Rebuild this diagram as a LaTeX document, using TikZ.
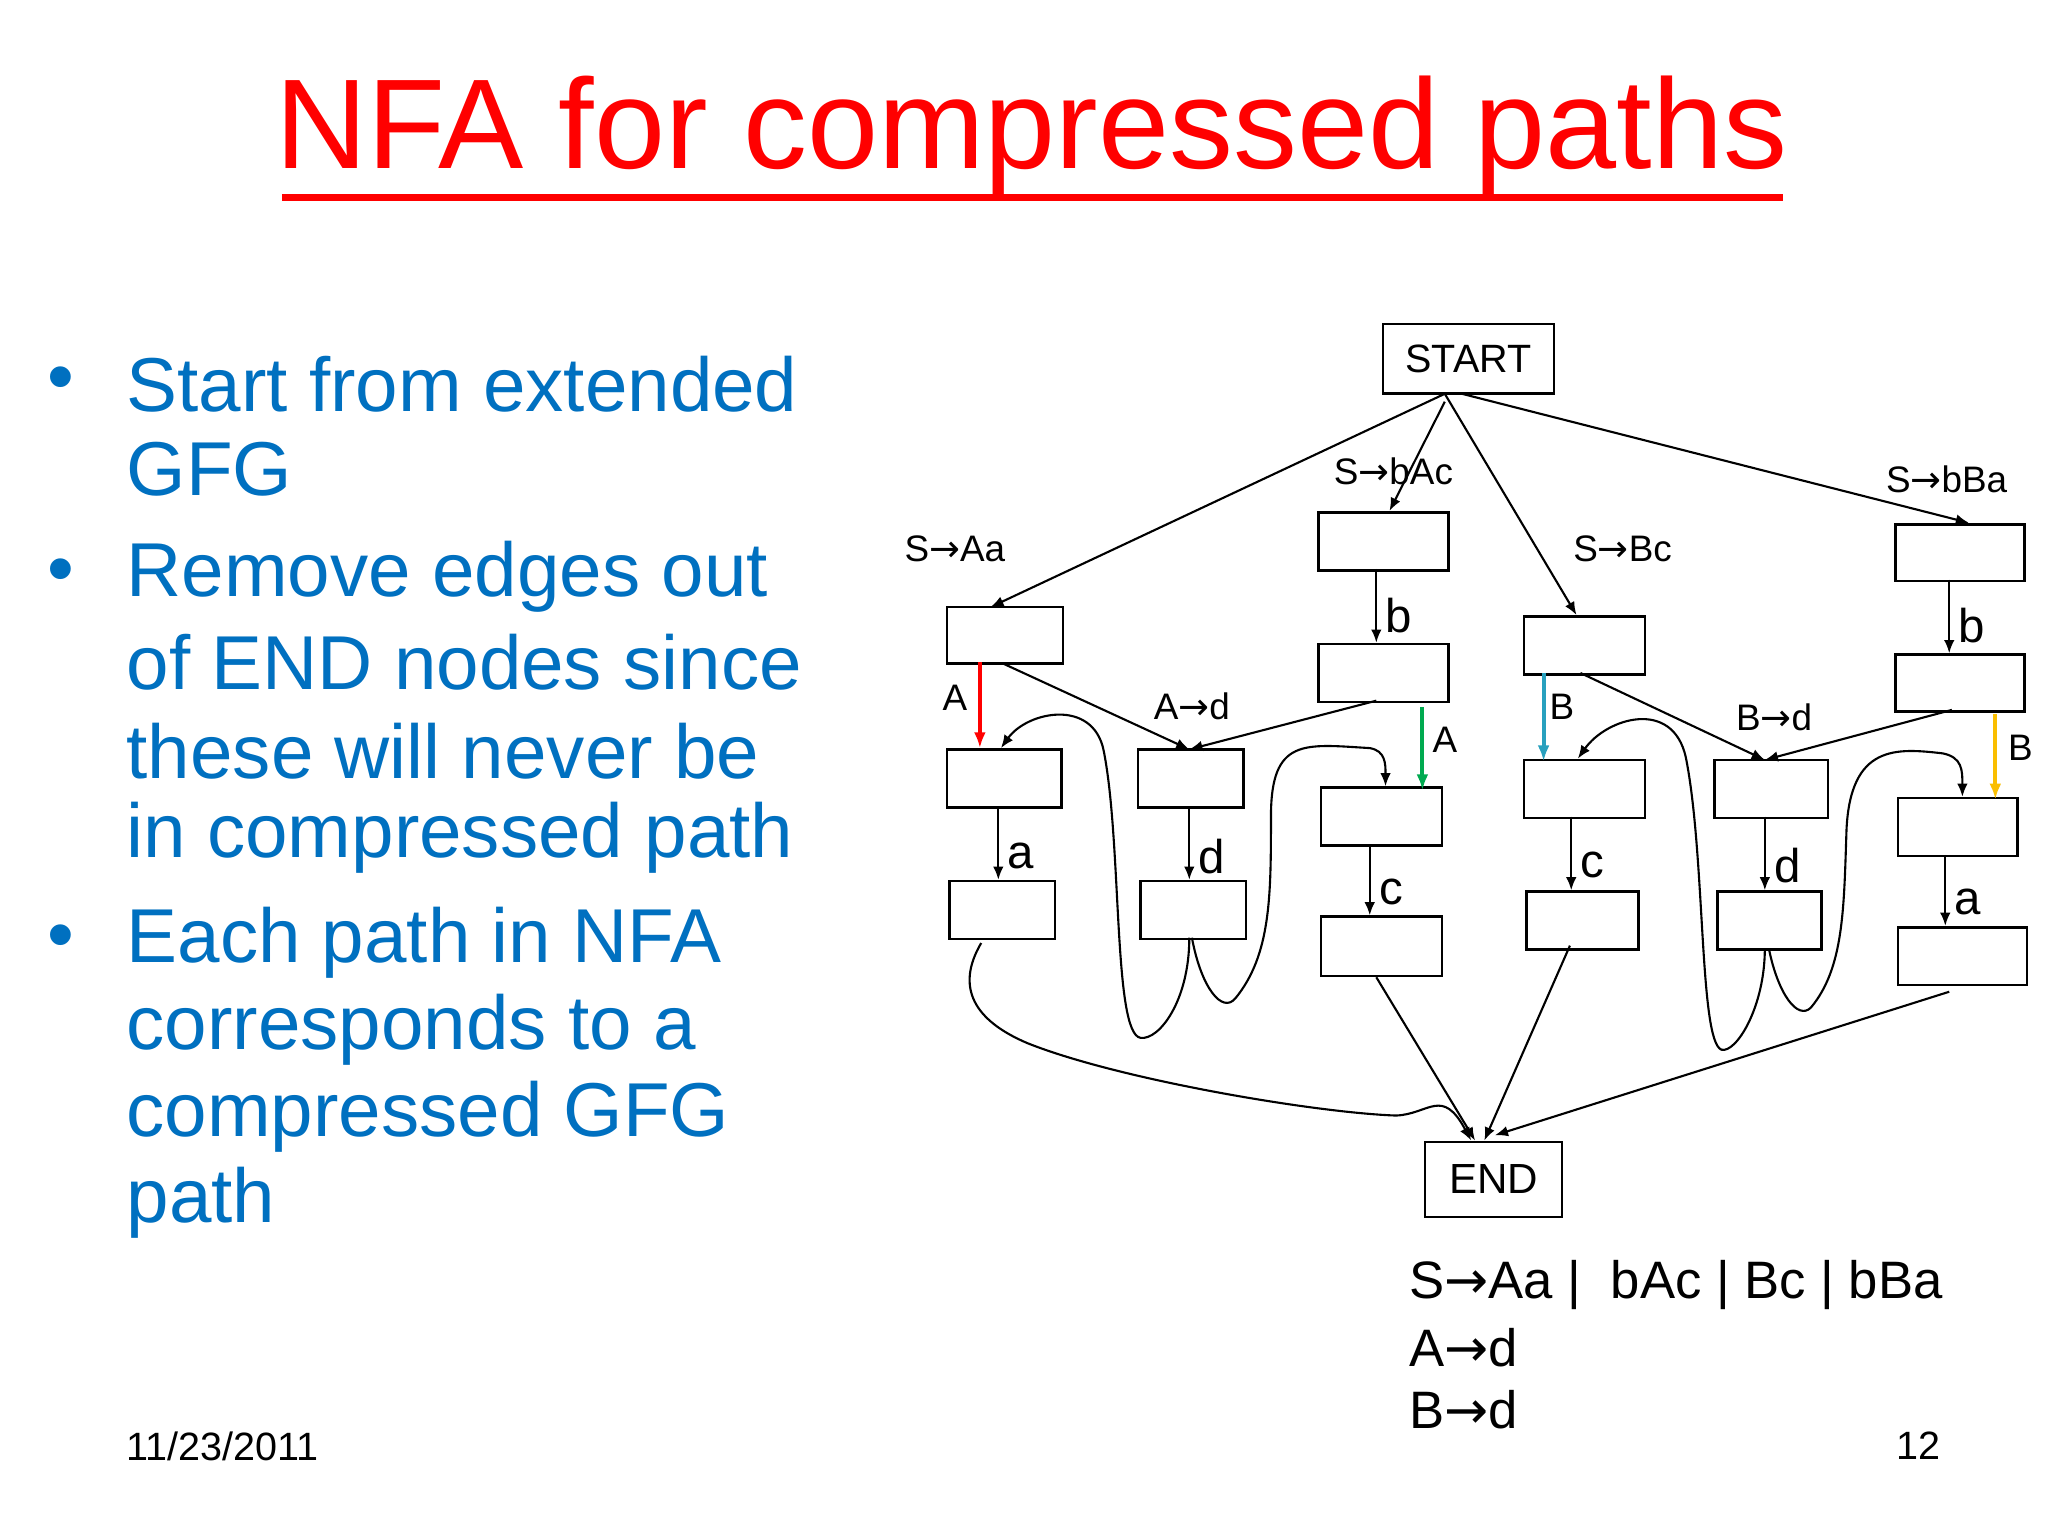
\documentclass[tikz,border=0pt]{standalone}
\usepackage{fontspec}
\setmainfont{Liberation Sans}
\newfontfamily\djv{DejaVu Sans}
\usetikzlibrary{arrows.meta}
\newcommand{\ar}{{\djv →}}
\definecolor{bl}{RGB}{0,112,192}
\definecolor{tl}{RGB}{40,160,190}
\definecolor{gr}{RGB}{0,170,80}
\definecolor{yl}{RGB}{250,190,0}
\begin{document}
\begin{tikzpicture}[x=1pt,y=-1pt,
  bx/.style={draw,line width=2pt,inner sep=0pt,anchor=north west},
  e/.style={-{Latex[length=10pt,width=8pt]},line width=1.6pt},
  ce/.style={-{Latex[length=12pt,width=9pt]},line width=3pt},
  lb/.style={font=\fontsize{28}{30}\selectfont,inner sep=0pt},
  el/.style={font=\fontsize{36}{38}\selectfont,inner sep=0pt,anchor=west},
  bul/.style={font=\fontsize{58}{60}\selectfont,text=bl,anchor=west,inner sep=0pt}]
\useasboundingbox[fill=white] (0,0) rectangle (1555,1167);
% title
\node[text=red,font=\fontsize{97}{100}\selectfont,inner sep=0pt] (title) at (783,103) {NFA for compressed paths};
\draw[red,line width=5pt] (214,150) -- (1354,150);
% bullets
\foreach \y/\t in {292/Start from extended,356/GFG,438/Remove edges out,503/of END nodes since,570/these will never be,636/in compressed path,716/Each path in NFA,782/corresponds to a,848/compressed GFG,913/path}
  \node[bul] at (96,\y) {\t};
\foreach \y in {292,438,716} \node[bul] at (36,\y) {•};
\node[font=\fontsize{30}{32}\selectfont,anchor=west,inner sep=0pt] (date) at (96,1098) {11/23/2011};
\node[font=\fontsize{30}{32}\selectfont,anchor=west,inner sep=0pt] (pg) at (1440,1098) {12};
% grammar
\node[font=\fontsize{40}{42}\selectfont,anchor=west,inner sep=0pt] (g1) at (1070,976) {S\ar Aa |\ \ bAc | Bc | bBa};
\node[font=\fontsize{40}{42}\selectfont,anchor=west,inner sep=0pt] (g2) at (1070,1023) {A\ar d};
\node[font=\fontsize{40}{42}\selectfont,anchor=west,inner sep=0pt] (g3) at (1070,1070) {B\ar d};
% boxes
\node[bx,minimum width=130pt,minimum height=53pt,font=\fontsize{30}{32}\selectfont] (start) at (1049,245) {START};
\node[bx,minimum width=104pt,minimum height=57pt,font=\fontsize{32}{34}\selectfont] (end) at (1081,866) {END};
\foreach \n/\x/\y/\w/\h in {b1/1000/388/99/44,b2/1000/488/99/44,b3/1002/597/92/44,b4/1002/695/92/45,
  a1/718/460/88/43,a2/718/568/87/44,a3/720/668/80/44,d1/863/568/80/44,d2/865/668/80/44,
  c1/1156/467/92/44,c2/1156/576/92/44,c3/1158/676/85/44,e1/1301/576/86/44,e2/1303/676/79/44,
  f1/1438/397/98/43,f2/1438/496/98/43,f3/1440/605/91/44,f4/1440/703/98/44}
  \node[bx,minimum width=\w pt,minimum height=\h pt] (\n) at (\x,\y) {};
% coords
\coordinate (s0) at (1097,299); \coordinate (s1) at (1097,305); \coordinate (s2) at (1110,299);
\draw[e] (s0) -- (752,461);
\draw[e] (s1) -- (1055,388);
\draw[e] (s0) -- (1197,467);
\draw[e] (s2) -- (1495,397);
\node[lb] (l1) at (725,417) {S\ar Aa};
\node[lb] (l2) at (1058,358) {S\ar bAc};
\node[lb] (l3) at (1232,417) {S\ar Bc};
\node[lb] (l4) at (1478,364) {S\ar bBa};
\node[lb] (l5) at (905,536) {A\ar d};
\node[lb] (l6) at (1347,545) {B\ar d};
% verticals
\draw[e] (1045,432) -- (1045,488); \node[el] at (1052,467) {b};
\draw[e] (1040,641) -- (1040,695); \node[el] at (1047,677) {c};
\draw[e] (758,612) -- (758,668); \node[el] at (765,650) {a};
\draw[e] (903,612) -- (903,668); \node[el] at (910,650) {d};
\draw[e] (1193,620) -- (1193,676); \node[el] at (1200,657) {c};
\draw[e] (1340,620) -- (1340,676); \node[el] at (1347,657) {d};
\draw[e] (1480,440) -- (1480,496); \node[el] at (1487,475) {b};
\draw[e] (1477,649) -- (1477,703); \node[el] at (1484,685) {a};
% colored
\draw[ce,red] (744,503) -- (744,568); \node[lb] at (725,530) {A};
\draw[ce,gr] (1080,537) -- (1080,600); \node[lb] at (1097,562) {A};
\draw[ce,tl] (1172,511) -- (1172,578); \node[lb] at (1186,537) {B};
\draw[ce,yl] (1515,542) -- (1515,607); \node[lb] at (1534,568) {B};
% diagonals
\draw[e] (762,504) -- (903,569);
\draw[e] (1045,532) -- (903,569);
\draw[e] (1200,511) -- (1340,577);
\draw[e] (1482,539) -- (1340,577);
% curves
\draw[e] (903,712) .. controls (903,760) and (880,790) .. (866,788) .. controls (845,785) and (852,640) .. (838,570) .. controls (830,530) and (780,540) .. (760,568);
\draw[e] (905,712) .. controls (912,750) and (928,770) .. (938,758) .. controls (965,725) and (965,680) .. (965,620) .. controls (965,560) and (990,565) .. (1040,568) .. controls (1052,570) and (1052,580) .. (1052,597);
\draw[e] (1340,720) .. controls (1340,765) and (1318,800) .. (1307,797) .. controls (1290,790) and (1295,650) .. (1280,575) .. controls (1270,530) and (1220,545) .. (1198,576);
\draw[e] (1343,720) .. controls (1350,755) and (1365,775) .. (1375,765) .. controls (1400,735) and (1400,690) .. (1402,630) .. controls (1405,565) and (1440,568) .. (1475,572) .. controls (1490,575) and (1490,585) .. (1490,605);
\draw[e] (745,716) .. controls (725,750) and (740,775) .. (780,792) .. controls (850,820) and (1000,845) .. (1060,847) .. controls (1085,846) and (1095,825) .. (1117,866);
\draw[e] (1045,742) -- (1120,866);
\draw[e] (1192,718) -- (1127,866);
\draw[e] (1480,753) -- (1135,862);
\end{tikzpicture}
\end{document}
